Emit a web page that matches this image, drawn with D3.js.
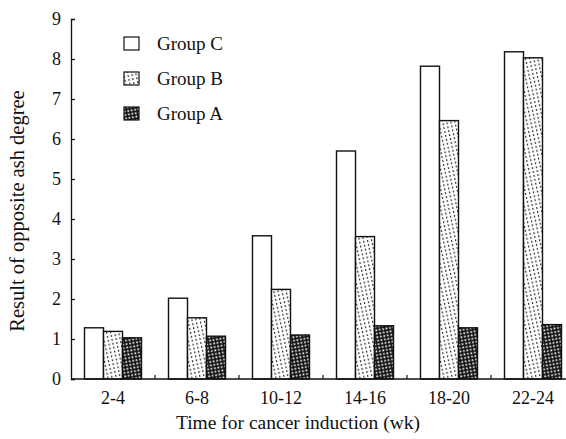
<!DOCTYPE html>
<html><head><meta charset="utf-8">
<script src="https://cdn.jsdelivr.net/npm/d3@7"></script>
<style>body{margin:0;background:#fff;} svg text{font-family:"Liberation Serif",serif !important;}</style>
</head><body>
<svg id="chart" width="566" height="439"></svg>
<script>
const categories = ["2-4","6-8","10-12","14-16","18-20","22-24"];
const groups = ["Group C","Group B","Group A"];
const groupC = [1.28, 2.02, 3.58, 5.70, 7.82, 8.18];
const groupB = [1.19, 1.53, 2.24, 3.56, 6.46, 8.03];
const groupA = [1.03, 1.07, 1.10, 1.33, 1.28, 1.36];
const yTicks = [0,1,2,3,4,5,6,7,8,9];

const seriesValues = [groupC, groupB, groupA];
const svg = d3.select("#chart");
const defs = svg.append("defs");
// pattern B: light dotted
const pB = defs.append("pattern").attr("id","patB").attr("patternUnits","userSpaceOnUse")
  .attr("width",4).attr("height",4).attr("patternTransform","rotate(-12)");
pB.append("rect").attr("width",4).attr("height",4).attr("fill","#fff");
pB.append("rect").attr("x",1).attr("y",0).attr("width",1.2).attr("height",2).attr("fill","#333");
// pattern A: dark crosshatch
const pA = defs.append("pattern").attr("id","patA").attr("patternUnits","userSpaceOnUse")
  .attr("width",3.5).attr("height",3.5).attr("patternTransform","rotate(-10)");
pA.append("rect").attr("width",3.5).attr("height",3.5).attr("fill","#111");
pA.append("rect").attr("x",1.2).attr("y",1.2).attr("width",1.7).attr("height",1.7).attr("fill","#fff");

const fills = ["#fff","url(#patB)","url(#patA)"];

const x0 = d3.scaleBand().domain(categories).range([71, 575]).paddingInner(0).paddingOuter(0);
const x1 = d3.scaleBand().domain(groups).range([x0.bandwidth()/2 - 28.5, x0.bandwidth()/2 + 28.5]);
const y = d3.scaleLinear().domain([0,9]).range([379, 19]);

// bars
categories.forEach((c, i) => {
  const g = svg.append("g").attr("transform", `translate(${x0(c)},0)`);
  groups.forEach((gr, j) => {
    const v = seriesValues[j][i];
    g.append("rect").attr("x", x1(gr)).attr("y", y(v))
      .attr("width", x1.bandwidth()).attr("height", y(0) - y(v))
      .attr("fill", fills[j]).attr("stroke","#111").attr("stroke-width",1.4);
  });
});

// y axis
const yAxis = d3.axisRight(y).tickValues(yTicks).tickSize(4).tickFormat(() => "");
const ya = svg.append("g").attr("transform","translate(71,0)").call(yAxis);
ya.select(".domain").attr("stroke","#111").attr("stroke-width",1.3);
ya.selectAll(".tick line").attr("stroke","#111").attr("stroke-width",1.2);
svg.append("g").selectAll("text").data(yTicks).join("text")
  .attr("x", 61).attr("y", d => y(d) + 6).attr("text-anchor","end")
  .attr("fill","#111").attr("font-size", 18).text(d => d);

// x axis
svg.append("line").attr("x1",71).attr("x2",566).attr("y1",379).attr("y2",379)
  .attr("stroke","#111").attr("stroke-width",1.6);
const xAxis = d3.axisBottom(x0).tickSize(0).tickPadding(12);
const xa = svg.append("g").attr("transform","translate(0,379)").call(xAxis);
xa.select(".domain").remove();
xa.selectAll("text").attr("font-size",18).attr("fill","#111");
// boundary ticks (inward)
svg.append("g").selectAll("line").data(categories.slice(1)).join("line")
  .attr("x1", d => x0(d)).attr("x2", d => x0(d)).attr("y1",379).attr("y2",375)
  .attr("stroke","#111").attr("stroke-width",1.2);

// axis labels
svg.append("text").attr("x", 298).attr("y", 429).attr("text-anchor","middle")
  .attr("fill","#111").attr("font-size",19.5).text("Time for cancer induction (wk)");
svg.append("text").attr("transform","translate(24,211) rotate(-90)").attr("text-anchor","middle")
  .attr("fill","#111").attr("font-size",20.5).text("Result of opposite ash degree");

// legend
const lg = svg.append("g");
groups.forEach((gr, j) => {
  const yy = 37 + j*35;
  lg.append("rect").attr("x",124).attr("y",yy).attr("width",15).attr("height",13)
    .attr("fill",fills[j]).attr("stroke","#111").attr("stroke-width",1.2);
  lg.append("text").attr("x",157).attr("y",yy+13).attr("font-size",19)
    .attr("fill","#111").text(gr);
});
</script>
</body></html>
